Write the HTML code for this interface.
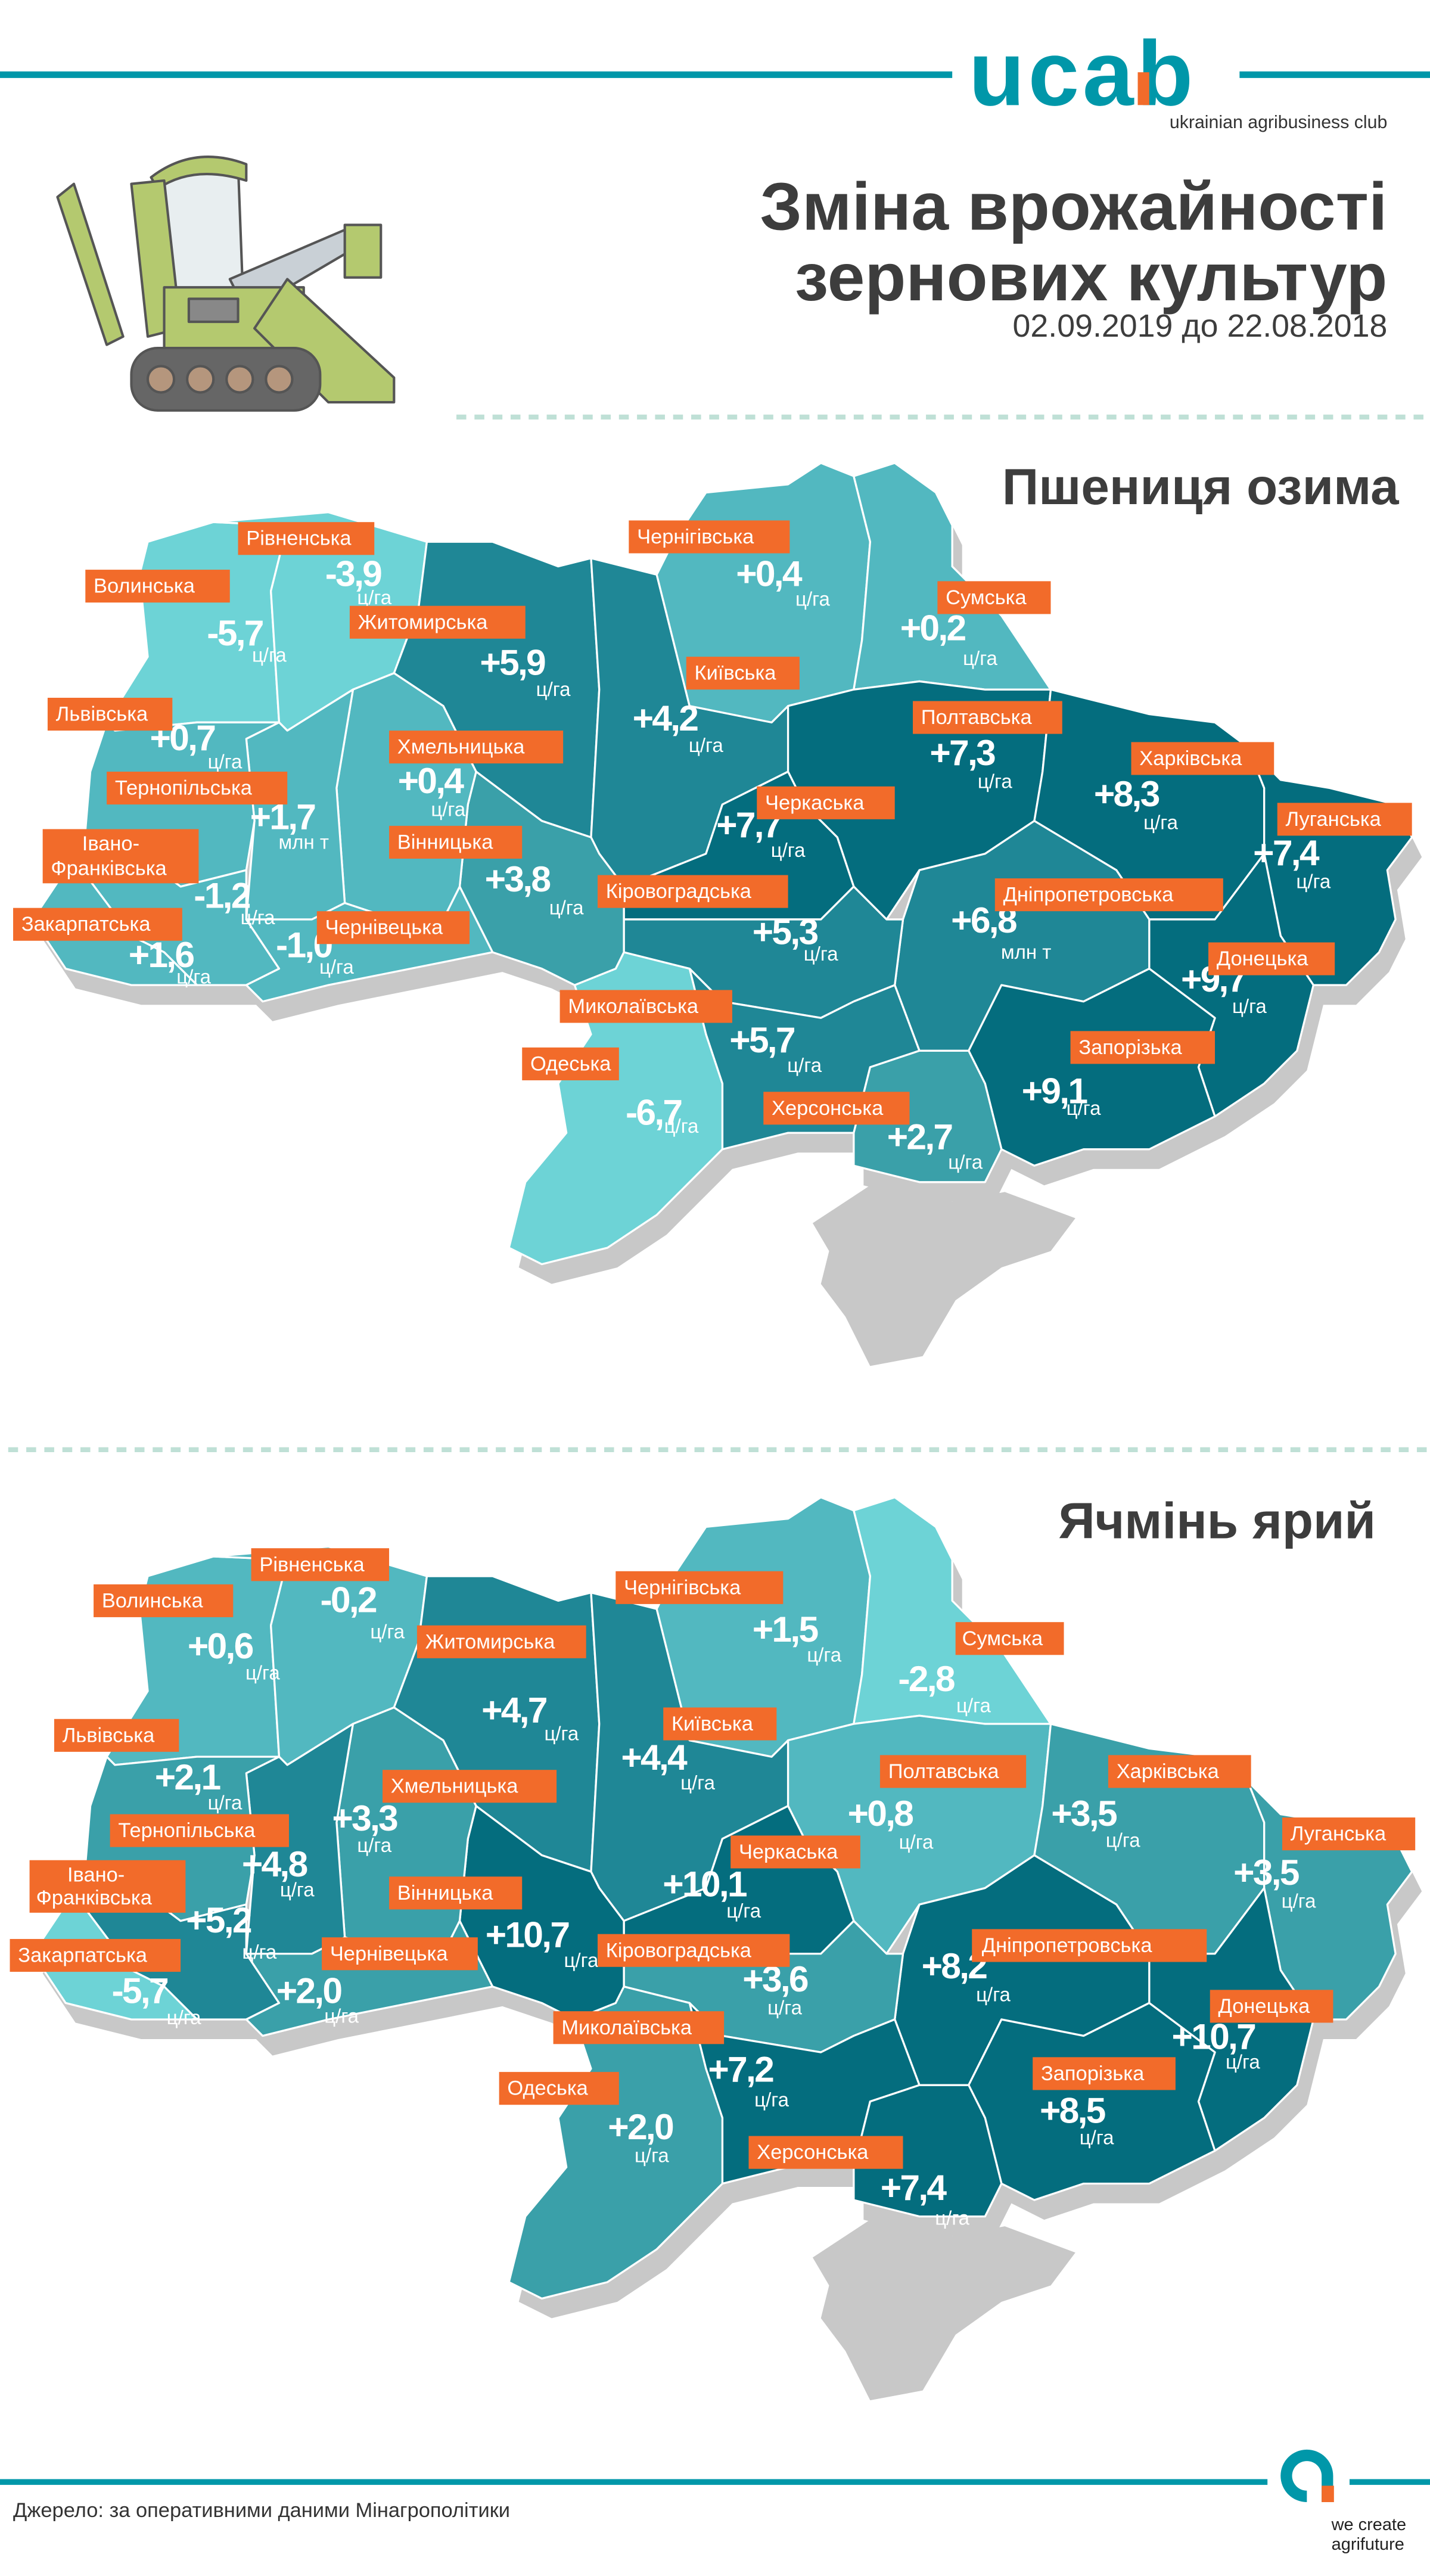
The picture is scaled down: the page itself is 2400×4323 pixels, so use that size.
<!DOCTYPE html>
<html><head><meta charset="utf-8"><style>
html,body{margin:0;padding:0;background:#fff;}
svg{display:block;}
.lb{font-family:"Liberation Sans",sans-serif;font-size:12.5px;fill:#fff;}
.v{font-family:"Liberation Sans",sans-serif;font-size:22px;font-weight:bold;fill:#fff;text-anchor:middle;letter-spacing:-1px;}
.u{font-family:"Liberation Sans",sans-serif;font-size:12px;fill:#fff;text-anchor:middle;}
.r{stroke:#fff;stroke-width:1.2;stroke-linejoin:round;}
</style></head><body>
<svg width="2400" height="4323" viewBox="0 0 871 1569" preserveAspectRatio="none" xmlns="http://www.w3.org/2000/svg">
<defs>
<polygon id="outline" points="90,330 130,318 200,312 260,330 300,330 340,345 360,340 400,350 410,330 430,300 480,295 500,282 520,290 545,282 570,300 580,320 580,345 610,375 640,420 660,425 700,435 740,440 760,455 780,475 810,480 850,490 860,510 845,530 850,560 840,580 820,600 800,600 790,640 770,660 740,680 700,700 660,700 630,710 610,700 600,720 560,720 520,710 520,690 480,690 440,700 420,720 400,740 370,760 330,770 310,760 320,720 345,690 340,660 360,630 350,600 330,590 300,580 250,590 200,600 160,610 150,600 120,600 80,600 40,590 20,560 40,530 50,530 55,470 65,440 90,400 85,350"/>
<polygon id="vol" points="90,330 130,318 175,320 165,360 170,440 120,440 70,445 65,440 90,400 85,350"/>
<polygon id="riv" points="130,318 200,312 260,330 255,370 240,410 215,420 175,445 170,440 165,360 175,320"/>
<polygon id="zht" points="260,330 300,330 340,345 360,340 365,420 360,510 330,500 290,470 270,430 240,410 255,370"/>
<polygon id="kyi" points="360,340 400,350 410,390 420,430 470,440 480,430 480,470 440,490 430,520 380,540 365,520 360,510 365,420"/>
<polygon id="chg" points="410,330 430,300 480,295 500,282 520,290 530,330 525,390 520,420 480,430 470,440 420,430 410,390 400,350"/>
<polygon id="sum" points="520,290 545,282 570,300 580,320 580,345 610,375 640,420 600,420 560,415 520,420 525,390 530,330"/>
<polygon id="plt" points="480,430 520,420 560,415 600,420 640,420 635,470 630,500 600,520 560,530 540,560 520,540 510,510 490,490 480,470"/>
<polygon id="khk" points="640,420 660,425 700,435 740,440 760,455 770,480 770,520 740,560 700,560 680,530 630,500 635,470"/>
<polygon id="lug" points="760,455 780,475 810,480 850,490 860,510 845,530 850,560 840,580 820,600 800,600 780,570 770,520 770,480"/>
<polygon id="don" points="770,520 780,570 800,600 790,640 770,660 740,680 730,650 740,620 700,590 700,560 740,560"/>
<polygon id="dnp" points="600,520 630,500 680,530 700,560 700,590 660,610 610,600 590,640 560,640 545,600 550,560 560,530"/>
<polygon id="zap" points="610,600 660,610 700,590 740,620 730,650 740,680 700,700 660,700 630,710 610,700 600,660 590,640"/>
<polygon id="chk" points="380,540 430,520 440,490 480,470 490,490 510,510 520,540 500,560 460,560 420,560 380,560"/>
<polygon id="kir" points="380,560 420,560 460,560 500,560 520,540 540,560 550,560 545,600 520,610 500,620 440,610 420,590 380,580"/>
<polygon id="myk" points="420,590 440,610 500,620 520,610 545,600 560,640 530,650 520,690 480,690 440,700 440,660 430,630"/>
<polygon id="khr" points="520,690 530,650 560,640 590,640 600,660 610,700 600,720 560,720 520,710"/>
<polygon id="ode" points="380,580 420,590 430,630 440,660 440,700 420,720 400,740 370,760 330,770 310,760 320,720 345,690 340,660 360,630 350,600 375,590"/>
<polygon id="vin" points="290,470 330,500 360,510 365,520 380,540 380,580 375,590 350,600 330,590 300,580 280,540 285,490"/>
<polygon id="khm" points="215,420 240,410 270,430 290,470 285,490 280,540 270,560 240,560 210,550 205,480"/>
<polygon id="ter" points="170,440 175,445 215,420 205,480 210,550 190,560 170,590 150,560 155,500 150,450"/>
<polygon id="lvi" points="65,440 70,445 120,440 170,440 150,450 155,500 150,530 110,540 90,525 50,530 55,470"/>
<polygon id="ivf" points="50,530 90,525 110,540 150,530 150,560 170,590 150,600 120,600 100,580 80,570"/>
<polygon id="zak" points="50,530 80,570 100,580 120,600 80,600 40,590 20,560 40,530"/>
<polygon id="chv" points="150,560 190,560 210,550 240,560 270,560 280,540 300,580 250,590 200,600 160,610 150,600 170,590"/>
<polygon id="crm" points="495,745 530,722 580,732 612,726 655,742 640,762 610,772 582,792 562,826 530,832 515,802 500,782 505,762"/>
</defs>

<!-- header -->
<rect x="0" y="43.5" width="580" height="4" fill="#0097a9"/>
<rect x="755" y="43.5" width="116" height="4" fill="#0097a9"/>
<text x="590" y="64" font-family="Liberation Sans,sans-serif" font-size="56" font-weight="bold" fill="#0097a9" letter-spacing="2">ucab</text>
<rect x="693" y="44" width="7" height="20" fill="#f26b2a"/>
<text x="845" y="78" text-anchor="end" font-family="Liberation Sans,sans-serif" font-size="11" fill="#333">ukrainian agribusiness club</text>
<text x="845" y="140" text-anchor="end" font-family="Liberation Sans,sans-serif" font-size="41" font-weight="bold" fill="#3d3d3d">Зміна врожайності</text>
<text x="845" y="183" text-anchor="end" font-family="Liberation Sans,sans-serif" font-size="41" font-weight="bold" fill="#3d3d3d">зернових культур</text>
<text x="845" y="205" text-anchor="end" font-family="Liberation Sans,sans-serif" font-size="19.5" fill="#3d3d3d">02.09.2019 до 22.08.2018</text>

<!-- harvester -->
<g stroke="#555" stroke-width="1.5" stroke-linejoin="round">
<polygon points="35,120 45,112 75,205 65,210" fill="#b4c96f"/>
<polygon points="100,105 145,100 148,180 100,185" fill="#e8eef0"/>
<path d="M92,108 Q118,88 150,100 L150,110 Q118,100 96,115Z" fill="#b4c96f"/>
<polygon points="80,112 100,110 110,200 90,205" fill="#b4c96f"/>
<polygon points="140,170 210,140 218,150 150,190" fill="#c9d0d6"/>
<rect x="210" y="137" width="22" height="32" fill="#b4c96f"/>
<rect x="100" y="175" width="85" height="50" fill="#b4c96f"/>
<rect x="115" y="182" width="30" height="14" fill="#888"/>
<polygon points="155,200 175,170 240,230 240,245 200,245" fill="#b4c96f"/>
<rect x="80" y="212" width="115" height="38" rx="16" fill="#666"/>
<circle cx="98" cy="231" r="8" fill="#b5967d"/><circle cx="122" cy="231" r="8" fill="#b5967d"/><circle cx="146" cy="231" r="8" fill="#b5967d"/><circle cx="170" cy="231" r="8" fill="#b5967d"/>
</g>

<!-- dashed separators -->
<line x1="278" y1="254" x2="871" y2="254" stroke="#bfe0d6" stroke-width="3" stroke-dasharray="6,5"/>
<line x1="5" y1="883" x2="871" y2="883" stroke="#bfe0d6" stroke-width="3" stroke-dasharray="6,5"/>

<!-- MAP 1 -->
<g>
<use href="#outline" fill="#c8c8c8" transform="translate(6,12)"/>
<use href="#crm" fill="#c8c8c8"/>
<g class="r">
<use href="#vol" fill="#6dd3d6"/><use href="#riv" fill="#6dd3d6"/><use href="#zht" fill="#1f8796"/><use href="#kyi" fill="#1f8796"/>
<use href="#chg" fill="#52b8c0"/><use href="#sum" fill="#52b8c0"/><use href="#plt" fill="#046d7e"/><use href="#khk" fill="#046d7e"/>
<use href="#lug" fill="#046d7e"/><use href="#don" fill="#046d7e"/><use href="#dnp" fill="#1f8796"/><use href="#zap" fill="#046d7e"/>
<use href="#chk" fill="#046d7e"/><use href="#kir" fill="#1f8796"/><use href="#myk" fill="#1f8796"/><use href="#khr" fill="#3aa0a9"/>
<use href="#ode" fill="#6dd3d6"/><use href="#vin" fill="#3aa0a9"/><use href="#khm" fill="#52b8c0"/><use href="#ter" fill="#52b8c0"/>
<use href="#lvi" fill="#52b8c0"/><use href="#ivf" fill="#52b8c0"/><use href="#zak" fill="#52b8c0"/><use href="#chv" fill="#52b8c0"/>
</g>
</g>
<text x="852" y="307" text-anchor="end" font-family="Liberation Sans,sans-serif" font-size="31" font-weight="bold" fill="#3d3d3d">Пшениця озима</text>

<g>
<text class="v" x="215" y="357">-3,9</text><text class="u" x="228" y="368">ц/га</text>
<text class="v" x="143" y="393">-5,7</text><text class="u" x="164" y="403">ц/га</text>
<text class="v" x="312" y="411">+5,9</text><text class="u" x="337" y="424">ц/га</text>
<text class="v" x="468" y="357">+0,4</text><text class="u" x="495" y="369">ц/га</text>
<text class="v" x="568" y="390">+0,2</text><text class="u" x="597" y="405">ц/га</text>
<text class="v" x="405" y="445">+4,2</text><text class="u" x="430" y="458">ц/га</text>
<text class="v" x="111" y="457">+0,7</text><text class="u" x="137" y="468">ц/га</text>
<text class="v" x="586" y="466">+7,3</text><text class="u" x="606" y="480">ц/га</text>
<text class="v" x="262" y="483">+0,4</text><text class="u" x="273" y="497">ц/га</text>
<text class="v" x="686" y="491">+8,3</text><text class="u" x="707" y="505">ц/га</text>
<text class="v" x="172" y="505">+1,7</text><text class="u" x="185" y="517">млн т</text>
<text class="v" x="456" y="510">+7,7</text><text class="u" x="480" y="522">ц/га</text>
<text class="v" x="783" y="527">+7,4</text><text class="u" x="800" y="541">ц/га</text>
<text class="v" x="315" y="543">+3,8</text><text class="u" x="345" y="557">ц/га</text>
<text class="v" x="135" y="553">-1,2</text><text class="u" x="157" y="563">ц/га</text>
<text class="v" x="478" y="575">+5,3</text><text class="u" x="500" y="585">ц/га</text>
<text class="v" x="599" y="568">+6,8</text><text class="u" x="625" y="584">млн т</text>
<text class="v" x="185" y="583">-1,0</text><text class="u" x="205" y="593">ц/га</text>
<text class="v" x="98" y="589">+1,6</text><text class="u" x="118" y="599">ц/га</text>
<text class="v" x="739" y="604">+9,7</text><text class="u" x="761" y="617">ц/га</text>
<text class="v" x="464" y="641">+5,7</text><text class="u" x="490" y="653">ц/га</text>
<text class="v" x="642" y="672">+9,1</text><text class="u" x="660" y="679">ц/га</text>
<text class="v" x="398" y="685">-6,7</text><text class="u" x="415" y="690">ц/га</text>
<text class="v" x="560" y="700">+2,7</text><text class="u" x="588" y="712">ц/га</text>
</g>
<g>
<rect x="145" y="318" width="83" height="20" fill="#f26b2a"/><text class="lb" x="150" y="332">Рівненська</text>
<rect x="52" y="347" width="88" height="20" fill="#f26b2a"/><text class="lb" x="57" y="361">Волинська</text>
<rect x="213" y="369" width="107" height="20" fill="#f26b2a"/><text class="lb" x="218" y="383">Житомирська</text>
<rect x="383" y="317" width="98" height="20" fill="#f26b2a"/><text class="lb" x="388" y="331">Чернігівська</text>
<rect x="571" y="354" width="69" height="20" fill="#f26b2a"/><text class="lb" x="576" y="368">Сумська</text>
<rect x="418" y="400" width="69" height="20" fill="#f26b2a"/><text class="lb" x="423" y="414">Київська</text>
<rect x="29" y="425" width="76" height="20" fill="#f26b2a"/><text class="lb" x="34" y="439">Львівська</text>
<rect x="237" y="445" width="106" height="20" fill="#f26b2a"/><text class="lb" x="242" y="459">Хмельницька</text>
<rect x="556" y="427" width="91" height="20" fill="#f26b2a"/><text class="lb" x="561" y="441">Полтавська</text>
<rect x="689" y="452" width="87" height="20" fill="#f26b2a"/><text class="lb" x="694" y="466">Харківська</text>
<rect x="65" y="470" width="110" height="20" fill="#f26b2a"/><text class="lb" x="70" y="484">Тернопільська</text>
<rect x="461" y="479" width="84" height="20" fill="#f26b2a"/><text class="lb" x="466" y="493">Черкаська</text>
<rect x="778" y="489" width="82" height="20" fill="#f26b2a"/><text class="lb" x="783" y="503">Луганська</text>
<rect x="26" y="505" width="95" height="33" fill="#f26b2a"/><text class="lb" x="50" y="518">Івано-</text><text class="lb" x="31" y="533">Франківська</text>
<rect x="237" y="503" width="81" height="20" fill="#f26b2a"/><text class="lb" x="242" y="517">Вінницька</text>
<rect x="364" y="533" width="116" height="20" fill="#f26b2a"/><text class="lb" x="369" y="547">Кіровоградська</text>
<rect x="606" y="535" width="139" height="20" fill="#f26b2a"/><text class="lb" x="611" y="549">Дніпропетровська</text>
<rect x="8" y="553" width="103" height="20" fill="#f26b2a"/><text class="lb" x="13" y="567">Закарпатська</text>
<rect x="193" y="555" width="93" height="20" fill="#f26b2a"/><text class="lb" x="198" y="569">Чернівецька</text>
<rect x="736" y="574" width="77" height="20" fill="#f26b2a"/><text class="lb" x="741" y="588">Донецька</text>
<rect x="341" y="603" width="105" height="20" fill="#f26b2a"/><text class="lb" x="346" y="617">Миколаївська</text>
<rect x="652" y="628" width="88" height="20" fill="#f26b2a"/><text class="lb" x="657" y="642">Запорізька</text>
<rect x="318" y="638" width="59" height="20" fill="#f26b2a"/><text class="lb" x="323" y="652">Одеська</text>
<rect x="465" y="665" width="89" height="20" fill="#f26b2a"/><text class="lb" x="470" y="679">Херсонська</text>
</g>

<!-- MAP 2 -->
<g transform="translate(0,630)">
<use href="#outline" fill="#c8c8c8" transform="translate(6,12)"/>
<use href="#crm" fill="#c8c8c8"/>
<g class="r">
<use href="#vol" fill="#52b8c0"/><use href="#riv" fill="#52b8c0"/><use href="#zht" fill="#1f8796"/><use href="#kyi" fill="#1f8796"/>
<use href="#chg" fill="#52b8c0"/><use href="#sum" fill="#6dd3d6"/><use href="#plt" fill="#52b8c0"/><use href="#khk" fill="#3aa0a9"/>
<use href="#lug" fill="#3aa0a9"/><use href="#don" fill="#046d7e"/><use href="#dnp" fill="#046d7e"/><use href="#zap" fill="#046d7e"/>
<use href="#chk" fill="#046d7e"/><use href="#kir" fill="#3aa0a9"/><use href="#myk" fill="#046d7e"/><use href="#khr" fill="#046d7e"/>
<use href="#ode" fill="#3aa0a9"/><use href="#vin" fill="#046d7e"/><use href="#khm" fill="#3aa0a9"/><use href="#ter" fill="#1f8796"/>
<use href="#lvi" fill="#3aa0a9"/><use href="#ivf" fill="#1f8796"/><use href="#zak" fill="#6dd3d6"/><use href="#chv" fill="#3aa0a9"/>
</g>
</g>
<text x="838" y="937" text-anchor="end" font-family="Liberation Sans,sans-serif" font-size="31" font-weight="bold" fill="#3d3d3d">Ячмінь ярий</text>

<g>
<text class="v" x="212" y="982">-0,2</text><text class="u" x="236" y="998">ц/га</text>
<text class="v" x="134" y="1010">+0,6</text><text class="u" x="160" y="1023">ц/га</text>
<text class="v" x="478" y="1000">+1,5</text><text class="u" x="502" y="1012">ц/га</text>
<text class="v" x="564" y="1030">-2,8</text><text class="u" x="593" y="1043">ц/га</text>
<text class="v" x="313" y="1049">+4,7</text><text class="u" x="342" y="1060">ц/га</text>
<text class="v" x="398" y="1078">+4,4</text><text class="u" x="425" y="1090">ц/га</text>
<text class="v" x="114" y="1090">+2,1</text><text class="u" x="137" y="1102">ц/га</text>
<text class="v" x="536" y="1112">+0,8</text><text class="u" x="558" y="1126">ц/га</text>
<text class="v" x="660" y="1112">+3,5</text><text class="u" x="684" y="1125">ц/га</text>
<text class="v" x="222" y="1115">+3,3</text><text class="u" x="228" y="1128">ц/га</text>
<text class="v" x="167" y="1143">+4,8</text><text class="u" x="181" y="1155">ц/га</text>
<text class="v" x="771" y="1148">+3,5</text><text class="u" x="791" y="1162">ц/га</text>
<text class="v" x="429" y="1155">+10,1</text><text class="u" x="453" y="1168">ц/га</text>
<text class="v" x="133" y="1177">+5,2</text><text class="u" x="158" y="1193">ц/га</text>
<text class="v" x="321" y="1186">+10,7</text><text class="u" x="354" y="1198">ц/га</text>
<text class="v" x="581" y="1205">+8,2</text><text class="u" x="605" y="1219">ц/га</text>
<text class="v" x="472" y="1213">+3,6</text><text class="u" x="478" y="1227">ц/га</text>
<text class="v" x="85" y="1220">-5,7</text><text class="u" x="112" y="1233">ц/га</text>
<text class="v" x="188" y="1220">+2,0</text><text class="u" x="208" y="1232">ц/га</text>
<text class="v" x="739" y="1248">+10,7</text><text class="u" x="757" y="1260">ц/га</text>
<text class="v" x="451" y="1268">+7,2</text><text class="u" x="470" y="1283">ц/га</text>
<text class="v" x="653" y="1293">+8,5</text><text class="u" x="668" y="1306">ц/га</text>
<text class="v" x="390" y="1303">+2,0</text><text class="u" x="397" y="1317">ц/га</text>
<text class="v" x="556" y="1340">+7,4</text><text class="u" x="580" y="1355">ц/га</text>
</g>
<g>
<rect x="153" y="943" width="84" height="20" fill="#f26b2a"/><text class="lb" x="158" y="957">Рівненська</text>
<rect x="57" y="965" width="85" height="20" fill="#f26b2a"/><text class="lb" x="62" y="979">Волинська</text>
<rect x="375" y="957" width="102" height="20" fill="#f26b2a"/><text class="lb" x="380" y="971">Чернігівська</text>
<rect x="254" y="990" width="103" height="20" fill="#f26b2a"/><text class="lb" x="259" y="1004">Житомирська</text>
<rect x="582" y="988" width="66" height="20" fill="#f26b2a"/><text class="lb" x="586" y="1002">Сумська</text>
<rect x="404" y="1040" width="69" height="20" fill="#f26b2a"/><text class="lb" x="409" y="1054">Київська</text>
<rect x="33" y="1047" width="76" height="20" fill="#f26b2a"/><text class="lb" x="38" y="1061">Львівська</text>
<rect x="536" y="1069" width="89" height="20" fill="#f26b2a"/><text class="lb" x="541" y="1083">Полтавська</text>
<rect x="675" y="1069" width="87" height="20" fill="#f26b2a"/><text class="lb" x="680" y="1083">Харківська</text>
<rect x="233" y="1078" width="106" height="20" fill="#f26b2a"/><text class="lb" x="238" y="1092">Хмельницька</text>
<rect x="67" y="1105" width="109" height="20" fill="#f26b2a"/><text class="lb" x="72" y="1119">Тернопільська</text>
<rect x="781" y="1107" width="81" height="20" fill="#f26b2a"/><text class="lb" x="786" y="1121">Луганська</text>
<rect x="445" y="1118" width="79" height="20" fill="#f26b2a"/><text class="lb" x="450" y="1132">Черкаська</text>
<rect x="18" y="1133" width="95" height="32" fill="#f26b2a"/><text class="lb" x="41" y="1146">Івано-</text><text class="lb" x="22" y="1160">Франківська</text>
<rect x="237" y="1143" width="81" height="20" fill="#f26b2a"/><text class="lb" x="242" y="1157">Вінницька</text>
<rect x="592" y="1175" width="143" height="20" fill="#f26b2a"/><text class="lb" x="598" y="1189">Дніпропетровська</text>
<rect x="364" y="1178" width="117" height="20" fill="#f26b2a"/><text class="lb" x="369" y="1192">Кіровоградська</text>
<rect x="6" y="1181" width="104" height="20" fill="#f26b2a"/><text class="lb" x="11" y="1195">Закарпатська</text>
<rect x="196" y="1180" width="95" height="20" fill="#f26b2a"/><text class="lb" x="201" y="1194">Чернівецька</text>
<rect x="737" y="1212" width="75" height="20" fill="#f26b2a"/><text class="lb" x="742" y="1226">Донецька</text>
<rect x="337" y="1225" width="104" height="20" fill="#f26b2a"/><text class="lb" x="342" y="1239">Миколаївська</text>
<rect x="629" y="1253" width="87" height="20" fill="#f26b2a"/><text class="lb" x="634" y="1267">Запорізька</text>
<rect x="304" y="1262" width="73" height="20" fill="#f26b2a"/><text class="lb" x="309" y="1276">Одеська</text>
<rect x="456" y="1301" width="94" height="20" fill="#f26b2a"/><text class="lb" x="461" y="1315">Херсонська</text>
</g>

<!-- footer -->
<rect x="0" y="1510" width="772" height="3.5" fill="#0097a9"/>
<rect x="822" y="1510" width="49" height="3.5" fill="#0097a9"/>
<path d="M796,1524 A16,16 0 1 1 812,1508 L812,1524 L805,1524 L805,1508 A9,9 0 1 0 796,1517 Z" fill="#0097a9"/>
<rect x="805" y="1514" width="7.5" height="10" fill="#f26b2a"/>
<text x="811" y="1541" font-family="Liberation Sans,sans-serif" font-size="10.5" fill="#222">we create</text>
<text x="811" y="1553" font-family="Liberation Sans,sans-serif" font-size="10.5" fill="#222">agrifuture</text>
<text x="8" y="1533" font-family="Liberation Sans,sans-serif" font-size="12.5" fill="#333">Джерело: за оперативними даними Мінагрополітики</text>
</svg>
</body></html>
